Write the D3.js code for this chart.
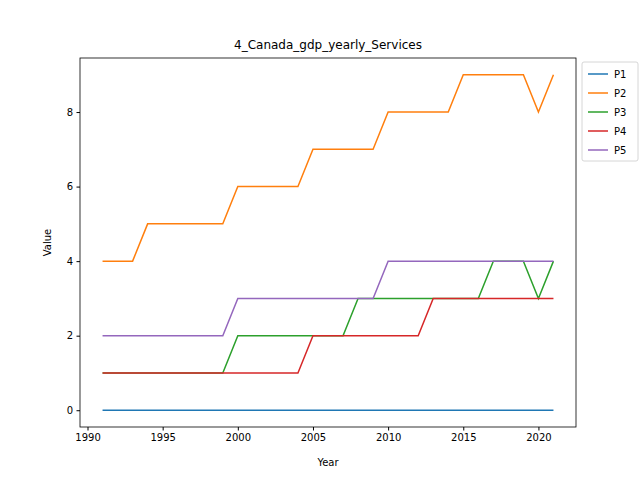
<!DOCTYPE html>
<html><head><meta charset="utf-8">
<script src="https://cdn.jsdelivr.net/npm/d3@7"></script>
<style>body{margin:0;background:#fff;font-family:"DejaVu Sans",sans-serif}</style>
</head><body><div id="vis"></div>
<script>
const years = d3.range(1991, 2022)
const seriesNames = ['P1', 'P2', 'P3', 'P4', 'P5']
const colors = ['#1f77b4', '#ff7f0e', '#2ca02c', '#d62728', '#9467bd']
const p1 = [0,0,0,0,0,0,0,0,0,0,0,0,0,0,0,0,0,0,0,0,0,0,0,0,0,0,0,0,0,0,0]
const p2 = [4,4,4,5,5,5,5,5,5,6,6,6,6,6,7,7,7,7,7,8,8,8,8,8,9,9,9,9,9,8,9]
const p3 = [1,1,1,1,1,1,1,1,1,2,2,2,2,2,2,2,2,3,3,3,3,3,3,3,3,3,4,4,4,3,4]
const p4 = [1,1,1,1,1,1,1,1,1,1,1,1,1,1,2,2,2,2,2,2,2,2,3,3,3,3,3,3,3,3,3]
const p5 = [2,2,2,2,2,2,2,2,2,3,3,3,3,3,3,3,3,3,3,4,4,4,4,4,4,4,4,4,4,4,4]
const allSeries = [p1, p2, p3, p4, p5]

const margin = {top: 58, right: 64, bottom: 53, left: 80}
const width = 640 - margin.left - margin.right
const height = 480 - margin.top - margin.bottom

const root = d3.select('#vis').append('svg').attr('width', 640).attr('height', 480)
const svg = root.append('g').attr('transform', `translate(${margin.left},${margin.top})`)

const xScale = d3.scaleLinear().domain([1989.5, 2022.5]).range([0, width])
const yScale = d3.scaleLinear().domain([-0.45, 9.45]).range([height, 0])

svg.append('g').attr('transform', `translate(0,${height})`)
    .call(d3.axisBottom(xScale).tickValues(d3.range(1990, 2021, 5)).tickFormat(d3.format('d')).tickSizeOuter(0).tickSize(3.5).tickPadding(3.5))
svg.append('g')
    .call(d3.axisLeft(yScale).tickValues([0, 2, 4, 6, 8]).tickSizeOuter(0).tickSize(3.5).tickPadding(3.5))
svg.selectAll('.tick text').style('font-size', '10px').attr('fill', '#000').style('font-family', 'DejaVu Sans')
svg.selectAll('.domain').remove()

const line = d3.line().x((d, i) => xScale(years[i])).y(d => yScale(d))
allSeries.forEach((s, k) => {
    svg.append('path').datum(s).attr('d', line)
        .attr('fill', 'none').attr('stroke', colors[k]).attr('stroke-width', 1.5)
})

svg.append('rect').attr('width', width).attr('height', height)
    .attr('fill', 'none').attr('stroke', '#000').attr('stroke-width', 0.8)

svg.append('text').attr('x', width / 2).attr('y', -9).attr('text-anchor', 'middle')
    .style('font-size', '12px').text('4_Canada_gdp_yearly_Services')
svg.append('text').attr('x', width / 2).attr('y', height + 39).attr('text-anchor', 'middle')
    .style('font-size', '10px').text('Year')
svg.append('text').attr('transform', 'rotate(-90)').attr('x', -height / 2).attr('y', -29)
    .attr('text-anchor', 'middle').style('font-size', '10px').text('Value')

// legend outside on the right
const legend = root.append('g').attr('transform', 'translate(582,62)')
legend.append('rect').attr('width', 56).attr('height', 99).attr('rx', 2)
    .attr('fill', '#fff').attr('stroke', '#ccc').attr('stroke-width', 0.8)
seriesNames.forEach((name, k) => {
    const g = legend.append('g').attr('transform', `translate(6,${12 + k * 19})`)
    g.append('line').attr('x1', 0).attr('x2', 20).attr('stroke', colors[k]).attr('stroke-width', 1.5)
    g.append('text').attr('x', 26).attr('y', 3.5).style('font-size', '10px').text(name)
})
</script></body></html>
